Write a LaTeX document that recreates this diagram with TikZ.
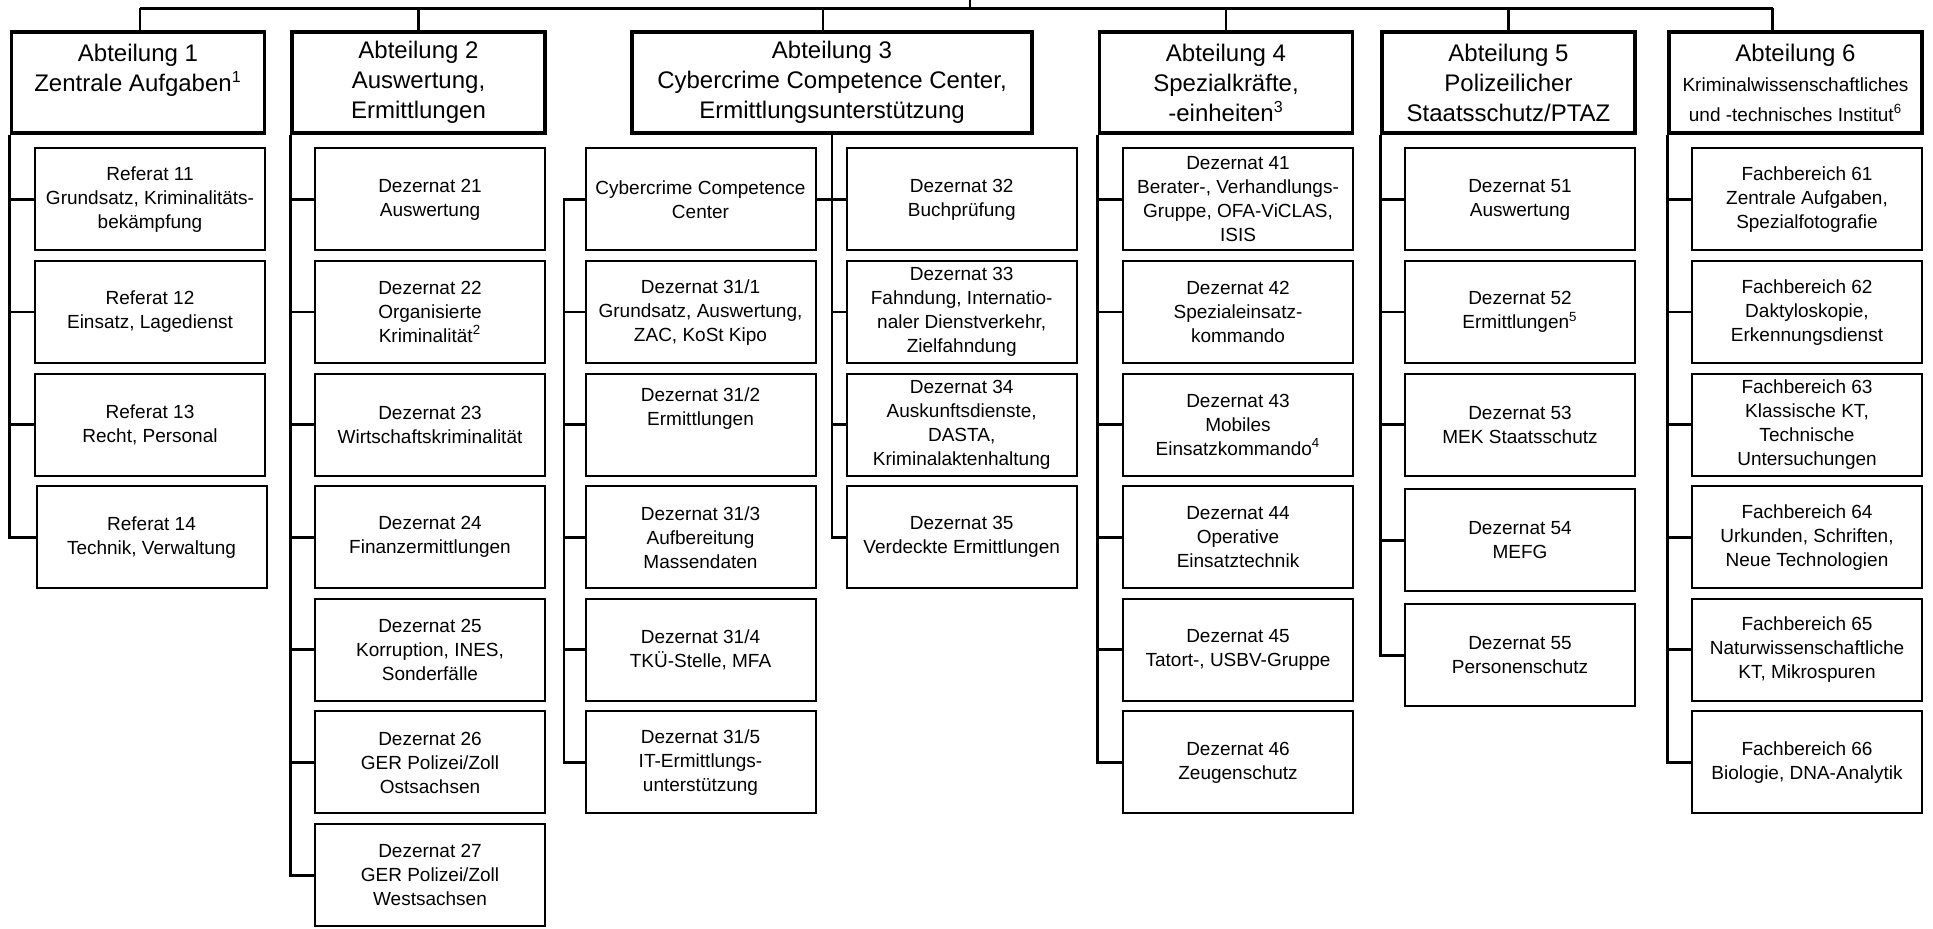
\documentclass[tikz,border=0pt]{standalone}
\usepackage{fontspec}
\setmainfont{Liberation Sans}
\usepackage{tikz}

\tikzset{
	abt/.style = {draw, line width=1.8pt, minimum width=126.5pt, minimum height=50.5pt, inner sep=0pt, align=center, font=\fontsize{12}{15}\selectfont},
	dez/.style = {draw, line width=1pt, minimum width=115pt, minimum height=51pt, inner sep=0pt, align=center, font=\fontsize{9.5}{12}\selectfont},
	verb/.style = {line width=1.4pt}
}

\begin{document}
\begin{tikzpicture}[x=0.5pt, y=-0.5pt]
	\useasboundingbox (0,0) rectangle (1933,929);

	% Abteilungen
	\node [abt] (a1) at (138,82.5) {Abteilung 1\\Zentrale Aufgaben\textsuperscript{1}\\~};
	\node [abt] (a2) at (418.5,82.5) {Abteilung 2\\Auswertung,\\Ermittlungen};
	\node [abt, minimum width=200pt] (a3) at (832,82.5) {Abteilung 3\\Cybercrime Competence Center,\\Ermittlungsunterstützung};
	\node [abt] (a4) at (1226,82.5) {Abteilung 4\\Spezialkräfte,\\-einheiten\textsuperscript{3}};
	\node [abt] (a5) at (1508.5,82.5) {Abteilung 5\\Polizeilicher\\Staatsschutz/PTAZ};
	\node [abt] (a6) at (1795.5,82.5) {Abteilung 6\\{\fontsize{9.5}{10.5}\selectfont Kriminalwissenschaftliches}\\{\fontsize{9.5}{10.5}\selectfont und -technisches Institut\textsuperscript{6}}};

	% Abteilung 1
	\node [dez] (r11) at (150,199.5) {Referat 11\\Grundsatz, Kriminalitäts-\\bekämpfung};
	\node [dez] (r12) at (150,312.1) {Referat 12\\Einsatz, Lagedienst};
	\node [dez] (r13) at (150,424.7) {Referat 13\\Recht, Personal};
	\node [dez] (r14) at (151.5,537.3) {Referat 14\\Technik, Verwaltung};

	% Abteilung 2
	\node [dez] (d21) at (430,199.5) {Dezernat 21\\Auswertung};
	\node [dez] (d22) at (430,312.1) {Dezernat 22\\Organisierte\\Kriminalität\textsuperscript{2}};
	\node [dez] (d23) at (430,424.7) {Dezernat 23\\Wirtschaftskriminalität};
	\node [dez] (d24) at (430,537.3) {Dezernat 24\\Finanzermittlungen};
	\node [dez] (d25) at (430,649.9) {Dezernat 25\\Korruption, INES,\\Sonderfälle};
	\node [dez] (d26) at (430,762.5) {Dezernat 26\\GER Polizei/Zoll\\Ostsachsen};
	\node [dez] (d27) at (430,875.1) {Dezernat 27\\GER Polizei/Zoll\\Westsachsen};

	% Abteilung 3
	\node [dez] (ccc) at (700.5,199.5) {Cybercrime Competence\\Center};
	\node [dez] (d311) at (700.5,312.1) {Dezernat 31/1\\Grundsatz, Auswertung,\\ZAC, KoSt Kipo};
	\node [dez] (d312) at (700.5,424.7) {Dezernat 31/2\\Ermittlungen\\[6pt]};
	\node [dez] (d313) at (700.5,537.3) {Dezernat 31/3\\Aufbereitung\\Massendaten};
	\node [dez] (d314) at (700.5,649.9) {Dezernat 31/4\\TKÜ-Stelle, MFA};
	\node [dez] (d315) at (700.5,762.5) {Dezernat 31/5\\IT-Ermittlungs-\\unterstützung};
	\node [dez] (d32) at (961.7,199.5) {Dezernat 32\\Buchprüfung};
	\node [dez] (d33) at (961.7,312.1) {Dezernat 33\\Fahndung, Internatio-\\naler Dienstverkehr,\\Zielfahndung};
	\node [dez] (d34) at (961.7,424.7) {Dezernat 34\\Auskunftsdienste,\\DASTA,\\Kriminalaktenhaltung};
	\node [dez] (d35) at (961.7,537.3) {Dezernat 35\\Verdeckte Ermittlungen};

	% Abteilung 4
	\node [dez] (d41) at (1238,199.5) {Dezernat 41\\Berater-, Verhandlungs-\\Gruppe, OFA-ViCLAS,\\ISIS};
	\node [dez] (d42) at (1238,312.1) {Dezernat 42\\Spezialeinsatz-\\kommando};
	\node [dez] (d43) at (1238,424.7) {Dezernat 43\\Mobiles\\Einsatzkommando\textsuperscript{4}};
	\node [dez] (d44) at (1238,537.3) {Dezernat 44\\Operative\\Einsatztechnik};
	\node [dez] (d45) at (1238,649.9) {Dezernat 45\\Tatort-, USBV-Gruppe};
	\node [dez] (d46) at (1238,762.5) {Dezernat 46\\Zeugenschutz};

	% Abteilung 5
	\node [dez] (d51) at (1520,199.5) {Dezernat 51\\Auswertung};
	\node [dez] (d52) at (1520,312.1) {Dezernat 52\\Ermittlungen\textsuperscript{5}};
	\node [dez] (d53) at (1520,424.7) {Dezernat 53\\MEK Staatsschutz};
	\node [dez] (d54) at (1520,540.5) {Dezernat 54\\MEFG};
	\node [dez] (d55) at (1520,655.5) {Dezernat 55\\Personenschutz};

	% Abteilung 6
	\node [dez] (f61) at (1807,199.5) {Fachbereich 61\\Zentrale Aufgaben,\\Spezialfotografie};
	\node [dez] (f62) at (1807,312.1) {Fachbereich 62\\Daktyloskopie,\\Erkennungsdienst};
	\node [dez] (f63) at (1807,424.7) {Fachbereich 63\\Klassische KT,\\Technische\\Untersuchungen};
	\node [dez] (f64) at (1807,537.3) {Fachbereich 64\\Urkunden, Schriften,\\Neue Technologien};
	\node [dez] (f65) at (1807,649.9) {Fachbereich 65\\Naturwissenschaftliche\\KT, Mikrospuren};
	\node [dez] (f66) at (1807,762.5) {Fachbereich 66\\Biologie, DNA-Analytik};

	% obere Leitung
	\coordinate (top) at (970,0);
	\coordinate (tm) at (970,8.3);
	\coordinate (tl) at (140,8.3);
	\coordinate (tr) at (1772.5,8.3);
	\draw [verb] (top) -- (tm);
	\draw [verb] (tl) -- (tr);
	\draw [verb] (tl) -- (tl |- a1.north);
	\draw [verb] (a2.north |- tl) -- (a2.north);
	\draw [verb] ([xshift=-4.5pt]a3.north |- tl) -- ([xshift=-4.5pt]a3.north);
	\draw [verb] (a4.north |- tl) -- (a4.north);
	\draw [verb] (a5.north |- tl) -- (a5.north);
	\draw [verb] (tr) -- (tr |- a6.north);

	% Abteilung 1
	\draw [verb] (a1.south west) |- (r14.west);
	\draw [verb] (a1.south west |- r11.west) -- (r11.west);
	\draw [verb] (a1.south west |- r12.west) -- (r12.west);
	\draw [verb] (a1.south west |- r13.west) -- (r13.west);

	% Abteilung 2
	\draw [verb] (a2.south west) |- (d27.west);
	\draw [verb] (a2.south west |- d21.west) -- (d21.west);
	\draw [verb] (a2.south west |- d22.west) -- (d22.west);
	\draw [verb] (a2.south west |- d23.west) -- (d23.west);
	\draw [verb] (a2.south west |- d24.west) -- (d24.west);
	\draw [verb] (a2.south west |- d25.west) -- (d25.west);
	\draw [verb] (a2.south west |- d26.west) -- (d26.west);

	% Abteilung 3
	\coordinate (v3) at (564,199.5);
	\draw [verb] (ccc.west) -- (v3) |- (d315.west);
	\draw [verb] (v3 |- d311.west) -- (d311.west);
	\draw [verb] (v3 |- d312.west) -- (d312.west);
	\draw [verb] (v3 |- d313.west) -- (d313.west);
	\draw [verb] (v3 |- d314.west) -- (d314.west);
	\draw [verb] (a3.south) |- (d35.west);
	\draw [verb] (ccc.east) -- (d32.west);
	\draw [verb] (a3.south |- d33.west) -- (d33.west);
	\draw [verb] (a3.south |- d34.west) -- (d34.west);

	% Abteilung 4
	\draw [verb] (a4.south west) |- (d46.west);
	\draw [verb] (a4.south west |- d41.west) -- (d41.west);
	\draw [verb] (a4.south west |- d42.west) -- (d42.west);
	\draw [verb] (a4.south west |- d43.west) -- (d43.west);
	\draw [verb] (a4.south west |- d44.west) -- (d44.west);
	\draw [verb] (a4.south west |- d45.west) -- (d45.west);

	% Abteilung 5
	\draw [verb] (a5.south west) |- (d55.west);
	\draw [verb] (a5.south west |- d51.west) -- (d51.west);
	\draw [verb] (a5.south west |- d52.west) -- (d52.west);
	\draw [verb] (a5.south west |- d53.west) -- (d53.west);
	\draw [verb] (a5.south west |- d54.west) -- (d54.west);

	% Abteilung 6
	\draw [verb] (a6.south west) |- (f66.west);
	\draw [verb] (a6.south west |- f61.west) -- (f61.west);
	\draw [verb] (a6.south west |- f62.west) -- (f62.west);
	\draw [verb] (a6.south west |- f63.west) -- (f63.west);
	\draw [verb] (a6.south west |- f64.west) -- (f64.west);
	\draw [verb] (a6.south west |- f65.west) -- (f65.west);

\end{tikzpicture}
\end{document}
